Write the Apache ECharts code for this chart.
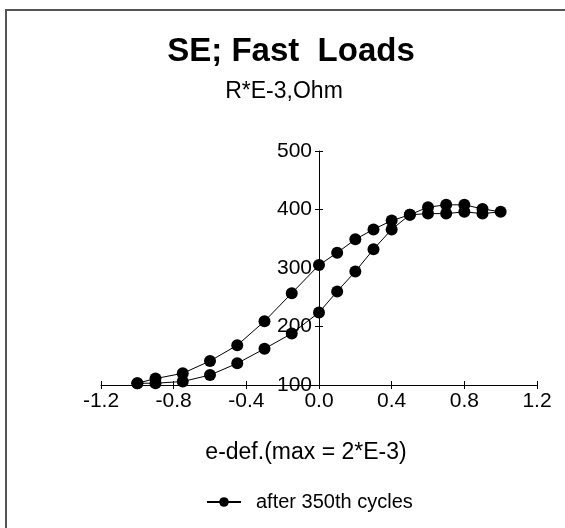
<!DOCTYPE html>
<html>
<head>
<meta charset="utf-8">
<script src="https://cdn.jsdelivr.net/npm/echarts@6/dist/echarts.min.js"></script>
<style>
html,body{margin:0;padding:0;background:#fff;}
#chart{width:565px;height:528px;}
</style>
</head>
<body>
<div id="chart"></div>
<script>
// ---- data ----
const strain = [-1.0, -0.9, -0.75, -0.6, -0.45, -0.3, -0.15, 0.0, 0.1, 0.2, 0.3, 0.4, 0.5, 0.6, 0.7, 0.8, 0.9, 1.0];
const rLowerBranch = [103, 103, 106, 117, 137, 162, 188, 224, 260, 294, 332, 366, 391, 393, 393, 396, 393, 396];
const rUpperBranch = [103, 111, 120, 141, 168, 209, 257, 305, 326, 349, 366, 381, 391, 404, 408, 408, 401, 396];
const xTicks = [-1.2, -0.8, -0.4, 0.0, 0.4, 0.8, 1.2];
const yTicks = [100, 200, 300, 400, 500];
const seriesName = 'after 350th cycles';
const chartTitle = 'SE; Fast  Loads';
const yUnit = 'R*E-3,Ohm';
const xName = 'e-def.(max = 2*E-3)';

// loop: lower branch forward, upper branch back
const loop = [];
for (let i = 0; i < strain.length; i++) loop.push([strain[i], rLowerBranch[i]]);
for (let i = strain.length - 2; i >= 0; i--) loop.push([strain[i], rUpperBranch[i]]);

const FONT = 'Liberation Sans';
const chart = echarts.init(document.getElementById('chart'), null, {renderer: 'canvas'});

const GRID_LEFT = 101, GRID_RIGHT = 28;
const plotW = 565 - GRID_LEFT - GRID_RIGHT;
// y axis crosses the x axis at strain 0
const yOffset = -plotW * (0 - xTicks[0]) / (xTicks[xTicks.length - 1] - xTicks[0]);

const xBase = {
  type: 'value', min: xTicks[0], max: xTicks[xTicks.length - 1], interval: 0.4,
  splitLine: {show: false}
};
const yBase = {
  type: 'value', min: yTicks[0], max: yTicks[yTicks.length - 1], interval: 100,
  splitLine: {show: false}, offset: yOffset
};

chart.setOption({
  backgroundColor: '#ffffff',
  animation: false,
  title: [
    {text: chartTitle, left: 286, top: 30, textAlign: 'center',
     textStyle: {fontFamily: FONT, fontSize: 33, fontWeight: 'bold', color: '#000'}},
    {text: yUnit, left: 279, top: 75, textAlign: 'center',
     textStyle: {fontFamily: FONT, fontSize: 23, fontWeight: 'normal', color: '#000'}}
  ],
  graphic: [
    {type: 'rect', silent: true, z: -10,
     shape: {x: 6, y: 10, width: 700, height: 700},
     style: {fill: 'none', stroke: '#555', lineWidth: 2}}
  ],
  legend: {
    data: [seriesName], left: 206, top: 492, padding: 0, itemWidth: 34, itemHeight: 12,
    textStyle: {fontFamily: FONT, fontSize: 20, color: '#000', padding: [0, 0, 0, 10]}
  },
  grid: {left: GRID_LEFT, right: GRID_RIGHT, top: 151, bottom: 143, containLabel: false},
  xAxis: [
    Object.assign({}, xBase, {
      position: 'bottom',
      name: xName, nameLocation: 'middle', nameGap: 56,
      nameTextStyle: {fontFamily: FONT, fontSize: 23, color: '#000', padding: [0, 26, 0, 0]},
      axisLine: {show: true, lineStyle: {color: '#000', width: 1}},
      axisTick: {show: true, inside: false, length: 4, lineStyle: {color: '#000'}},
      axisLabel: {show: true, margin: 6, fontFamily: FONT, fontSize: 21, color: '#000',
                  formatter: v => v.toFixed(1)}
    }),
    Object.assign({}, xBase, {
      position: 'bottom',
      axisLine: {show: false},
      axisTick: {show: true, inside: true, length: 4, lineStyle: {color: '#000'}},
      axisLabel: {show: false}
    })
  ],
  yAxis: [
    Object.assign({}, yBase, {
      position: 'left',
      axisLine: {show: true, onZero: false, lineStyle: {color: '#000', width: 1}},
      axisTick: {show: true, inside: false, length: 4, lineStyle: {color: '#000'}},
      axisLabel: {show: true, margin: 7, fontFamily: FONT, fontSize: 21, color: '#000'}
    }),
    Object.assign({}, yBase, {
      position: 'left',
      axisLine: {show: false, onZero: false},
      axisTick: {show: true, inside: true, length: 4, lineStyle: {color: '#000'}},
      axisLabel: {show: false}
    })
  ],
  series: [{
    name: seriesName, type: 'line', xAxisIndex: 0, yAxisIndex: 0,
    data: loop, symbol: 'circle', symbolSize: 12,
    itemStyle: {color: '#000'},
    lineStyle: {color: '#000', width: 1}
  }]
});
</script>
</body>
</html>
